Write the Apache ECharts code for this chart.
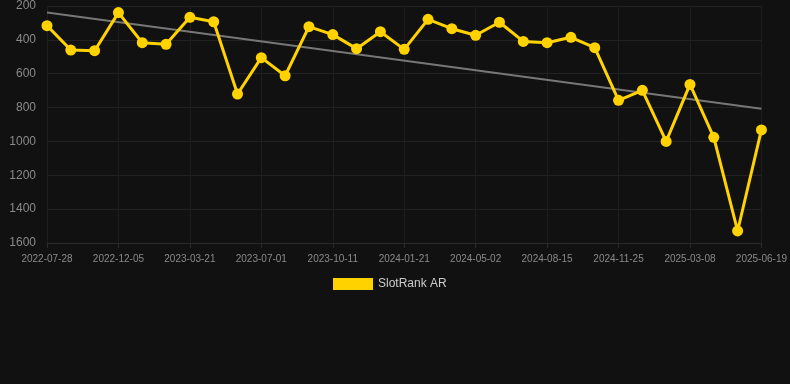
<!DOCTYPE html>
<html>
<head>
<meta charset="utf-8">
<script src="https://cdn.jsdelivr.net/npm/echarts@6/dist/echarts.min.js"></script>
<style>
  html, body { margin: 0; padding: 0; background: #111111; }
  #chart { width: 790px; height: 384px; }
</style>
</head>
<body>
<div id="chart"></div>
<script>
// 日期
var dates = ['2022-07-28', '2022-09-09', '2022-10-22', '2022-12-05', '2023-01-09', '2023-02-13',
    '2023-03-21', '2023-04-24', '2023-05-28', '2023-07-01', '2023-08-04', '2023-09-07',
    '2023-10-11', '2023-11-14', '2023-12-18', '2024-01-21', '2024-02-24', '2024-03-29',
    '2024-05-02', '2024-06-06', '2024-07-11', '2024-08-15', '2024-09-18', '2024-10-22',
    '2024-11-25', '2024-12-29', '2025-02-01', '2025-03-08', '2025-04-11', '2025-05-15',
    '2025-06-19'];
// 排名
var rankValues = [316, 460, 464, 239, 417, 426, 267, 293, 720, 505, 612, 322, 369, 452, 352,
    456, 279, 334, 373, 296, 409, 417, 385, 446, 757, 698, 1000, 663, 976, 1529, 932];
// 趋势线 (只有首尾两点)
var trendValues = [239, null, null, null, null, null, null, null, null, null, null, null, null,
    null, null, null, null, null, null, null, null, null, null, null, null, null, null, null,
    null, null, 807];

var chart = echarts.init(document.getElementById('chart'));
var option = {
    backgroundColor: '#111111',
    animation: false,
    grid: { left: 47, right: 28, top: 6, bottom: 141 },
    legend: {
        data: ['SlotRank AR'],
        top: 273,
        left: 328,
        itemWidth: 40,
        itemHeight: 12,
        icon: 'rect',
        textStyle: { color: '#cccccc', fontSize: 12, fontFamily: 'Liberation Sans, Arial' }
    },
    xAxis: {
        type: 'category',
        data: dates,
        boundaryGap: false,
        axisLine: { show: true, lineStyle: { color: '#2a2a2a' } },
        axisTick: { show: true, interval: 2, lineStyle: { color: '#2a2a2a' } },
        axisLabel: { interval: 2, color: '#8a8a8a', fontSize: 10, margin: 11, fontFamily: 'Liberation Sans, Arial' },
        splitLine: { show: true, interval: 2, lineStyle: { color: '#1e1e1e' } }
    },
    yAxis: {
        type: 'value',
        inverse: true,
        min: 200,
        max: 1600,
        interval: 200,
        axisLine: { show: false },
        axisTick: { show: false },
        axisLabel: {
            color: '#8a8a8a', fontSize: 12, margin: 11, fontFamily: 'Liberation Sans, Arial',
            formatter: function (v) { return String(v); }
        },
        splitLine: { lineStyle: { color: '#222222' } }
    },
    series: [{
        name: 'trend',
        type: 'line',
        data: trendValues,
        connectNulls: true,
        symbol: 'none',
        lineStyle: { color: '#777777', width: 2 },
        z: 1
    }, {
        name: 'SlotRank AR',
        type: 'line',
        data: rankValues,
        symbol: 'circle',
        symbolSize: 11,
        itemStyle: { color: '#FFD200' },
        lineStyle: { color: '#FFD200', width: 3 },
        z: 2
    }]
};
chart.setOption(option);
</script>
</body>
</html>
